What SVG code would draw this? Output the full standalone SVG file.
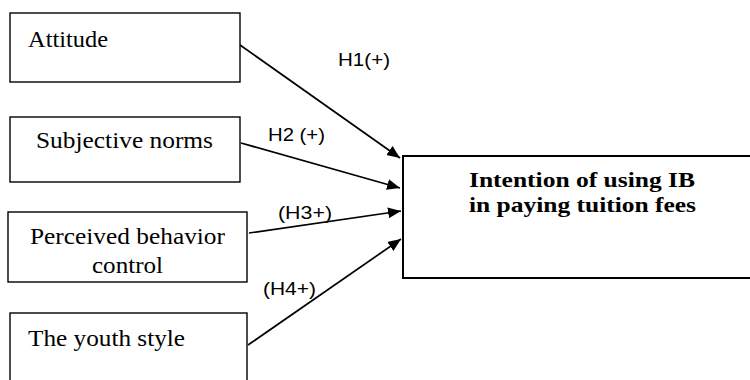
<svg xmlns="http://www.w3.org/2000/svg" width="750" height="380" viewBox="0 0 750 380">
<defs>
<style>
.box{fill:#fff;stroke:#000;stroke-width:1.4}
.main{fill:#fff;stroke:#000;stroke-width:2}
.t{font-family:"Liberation Serif","Times New Roman",serif;font-size:23.5px;fill:#000}
.tb{font-family:"Liberation Serif","Times New Roman",serif;font-size:22px;font-weight:bold;fill:#000}
.lbl{font-family:"Liberation Sans",Arial,sans-serif;font-size:18px;fill:#000}
.arr{stroke:#000;stroke-width:1.7;fill:none;marker-end:url(#ah)}
</style>
<marker id="ah" markerUnits="userSpaceOnUse" markerWidth="14" markerHeight="12" refX="13" refY="5.5" orient="auto">
<path d="M0,0 L13,5.5 L0,11 z" fill="#000"/>
</marker>
</defs>
<rect width="750" height="380" fill="#fff"/>
<g id="attitude">
<rect class="box" x="10" y="13" width="230" height="69"/>
<text class="t" x="28" y="47" textLength="80" lengthAdjust="spacingAndGlyphs">Attitude</text>
</g>
<g id="subjective-norms">
<rect class="box" x="10" y="117" width="230" height="65"/>
<text class="t" x="36" y="148" textLength="177" lengthAdjust="spacingAndGlyphs">Subjective norms</text>
</g>
<g id="perceived-behavior-control">
<rect class="box" x="8" y="212" width="239" height="70"/>
<text class="t" x="30" y="244" textLength="195" lengthAdjust="spacingAndGlyphs">Perceived behavior</text>
<text class="t" x="92" y="273" textLength="71" lengthAdjust="spacingAndGlyphs">control</text>
</g>
<g id="youth-style">
<rect class="box" x="10" y="313" width="237" height="90"/>
<text class="t" x="28" y="346" textLength="157" lengthAdjust="spacingAndGlyphs">The youth style</text>
</g>
<g id="intention">
<rect class="main" x="403" y="156" width="360" height="122"/>
<text class="tb" x="469" y="187" textLength="226" lengthAdjust="spacingAndGlyphs">Intention of using IB</text>
<text class="tb" x="469" y="212" textLength="227" lengthAdjust="spacingAndGlyphs">in paying tuition fees</text>
</g>
<g id="connectors">
<line class="arr" x1="240" y1="45" x2="400" y2="158"/>
<line class="arr" x1="241" y1="143" x2="400" y2="188"/>
<line class="arr" x1="249" y1="233" x2="401" y2="211"/>
<line class="arr" x1="248" y1="345" x2="401" y2="239"/>
<text class="lbl" x="338" y="66" textLength="52" lengthAdjust="spacingAndGlyphs">H1(+)</text>
<text class="lbl" x="268" y="141" textLength="57" lengthAdjust="spacingAndGlyphs">H2 (+)</text>
<text class="lbl" x="278" y="219" textLength="54" lengthAdjust="spacingAndGlyphs">(H3+)</text>
<text class="lbl" x="263" y="295" textLength="53" lengthAdjust="spacingAndGlyphs">(H4+)</text>
</g>
</svg>
